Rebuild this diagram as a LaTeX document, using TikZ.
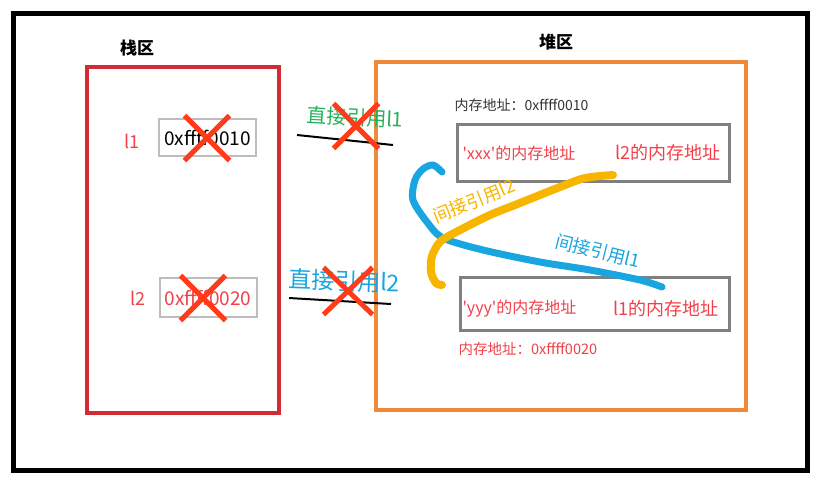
\documentclass[tikz,border=0pt]{standalone}
\usepackage{fontspec}
\setmainfont{Noto Sans CJK SC}
\usetikzlibrary{shapes.misc}
\definecolor{stackred}{HTML}{D22B36}
\definecolor{heaporange}{HTML}{EE8A3A}
\definecolor{labelred}{HTML}{F0404A}
\definecolor{crossred}{HTML}{FF3B1A}
\definecolor{refgreen}{HTML}{27B05A}
\definecolor{refblue}{HTML}{19A5DF}
\definecolor{refyellow}{HTML}{F7B500}
\definecolor{cellgray}{HTML}{BDBDBD}
\definecolor{heapgray}{HTML}{808080}
\newcommand{\fs}[1]{\fontsize{#1}{#1}\selectfont}
\newcommand{\q}{\textquotesingle}

\begin{document}
\begin{tikzpicture}[x=1pt,y=-1pt]
  \tikzstyle{cell}=[draw=cellgray,line width=2pt,minimum width=97pt,minimum height=37pt,inner sep=0pt,font=\fs{19}]
  \tikzstyle{slot}=[draw=heapgray,line width=3pt,minimum width=272pt,minimum height=55pt,inner sep=0pt]
  \tikzstyle{xmark}=[draw=crossred,cross out,line width=5pt,minimum width=40pt,minimum height=40pt,inner sep=0pt]
  \tikzstyle{stroke}=[line width=7pt,line cap=round,line join=round]
  \useasboundingbox (0,0) rectangle (829,485);
  \draw[line width=5pt] (13,13) rectangle (807,470);
  % stack and heap areas
  \draw[stackred,line width=4pt] (87,67) rectangle (279,413);
  \draw[heaporange,line width=4pt] (376,62) rectangle (746,410);
  \node[font=\fs{17}\bfseries] (stacktitle) at (137,48) {栈区};
  \node[font=\fs{17}\bfseries] (heaptitle) at (556,42) {堆区};
  % stack variables
  \node[cell] (c1) at (207.5,137.5) {0xffff0010};
  \node[cell,text=labelred,minimum height=39pt] (c2) at (208,297.5) {0xffff0020};
  \node[text=labelred,font=\fs{18},anchor=east] (l1) at (143,141) {l1};
  \node[text=labelred,font=\fs{18},anchor=east] (l2) at (149,298) {l2};
  % heap objects
  \node[slot,minimum height=57pt] (xxx) at (593,152.5) {};
  \node[slot,minimum width=269pt,minimum height=53pt] (yyy) at (594.5,303.5) {};
  \node[font=\fs{14},text=black!80,anchor=west] (addr1) at (451,105) {内存地址：0xffff0010};
  \node[font=\fs{14.5},text=labelred,anchor=west] (addr2) at (455,349) {内存地址：0xffff0020};
  \node[font=\fs{16},text=labelred,anchor=west] (xname) at (459,153) {\q xxx\q 的内存地址};
  \node[font=\fs{18},text=labelred,anchor=east] (xref) at (724,153) {l2的内存地址};
  \node[font=\fs{16},text=labelred,anchor=west] (yname) at (459,309) {\q yyy\q 的内存地址};
  \node[font=\fs{18},text=labelred,anchor=east] (yref) at (722,309) {l1的内存地址};
  % direct references (cut)
  \coordinate (d1a) at (297,135);
  \coordinate (d1b) at (393,145);
  \coordinate (d2a) at (289,298);
  \coordinate (d2b) at (391,304);
  \draw[line width=2pt] (d1a) -- (d1b);
  \draw[line width=2pt] (d2a) -- (d2b);
  \node[text=refgreen,font=\fs{20},rotate=-3] (direct1) at (355,117) {直接引用l1};
  \node[text=refblue,font=\fs{23},rotate=-2] (direct2) at (344,281) {直接引用l2};
  \node[xmark] (x1) at (207,138) {};
  \node[xmark] (x2) at (203,298) {};
  \node[xmark] (x3) at (356,126) {};
  \node[xmark,minimum width=44pt,minimum height=42pt] (x4) at (348,291) {};
  % indirect references
  \coordinate (b0) at (662,287);
  \coordinate (y0) at (613,175);
  \draw[refblue,stroke] plot[smooth] coordinates {(b0) (640,280) (590,270) (540,262) (483,250) (443,238) (427,222) (413,200) (415,180) (423,169) (433,165) (442,172)};
  \draw[refyellow,stroke,line width=8pt] plot[smooth] coordinates {(y0) (585,178) (560,187) (520,203) (490,215) (462,229) (441,241) (432,256) (431,272) (436,283) (442,285)};
  \node[text=refyellow,font=\fs{18},rotate=22] (ind2) at (474,201) {间接引用l2};
  \node[text=refblue,font=\fs{18},rotate=-14] (ind1) at (598,251) {间接引用l1};
\end{tikzpicture}
\end{document}
